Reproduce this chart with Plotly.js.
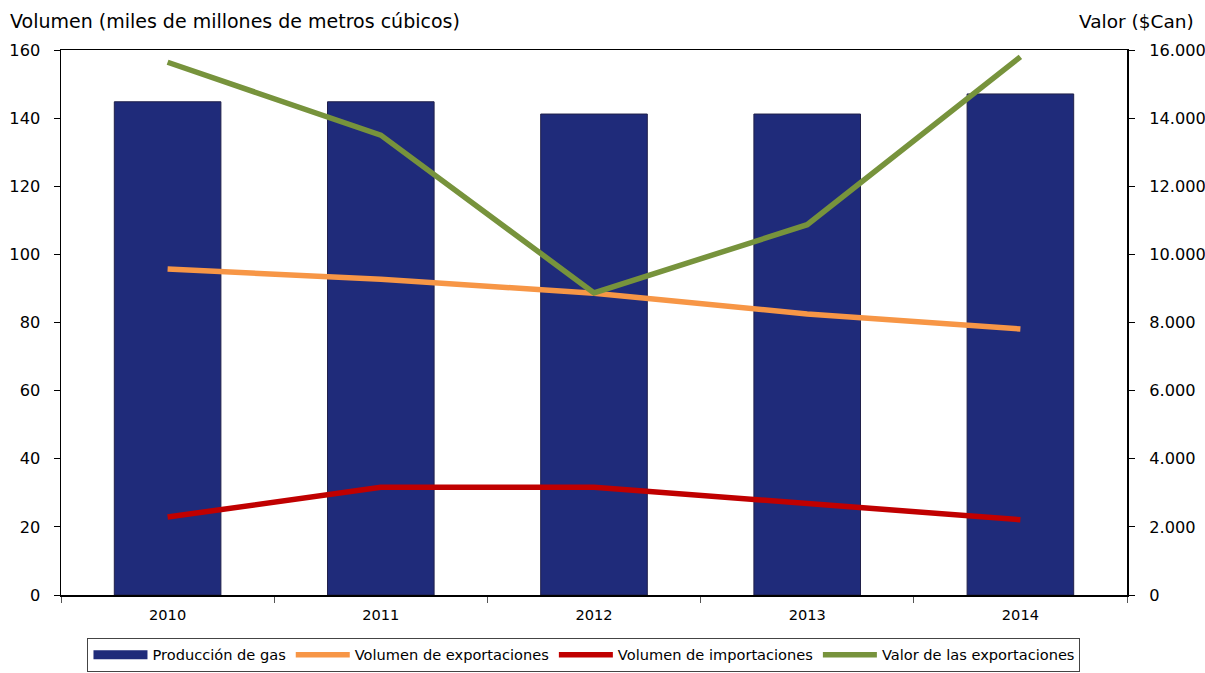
<!DOCTYPE html>
<html>
<head>
<meta charset="utf-8">
<script src="https://cdn.plot.ly/plotly-3.0.1.min.js"></script>
<style>
html,body{margin:0;padding:0;background:#fff;overflow:hidden;width:1205px;height:673px;}
#chart{width:1205px;height:692px;}
</style>
</head>
<body>
<div id="chart"></div>
<script>
const years = ['2010', '2011', '2012', '2013', '2014'];
const produccionGas = [144.8, 144.8, 141.2, 141.2, 147.1];
const volumenExportaciones = [95.7, 92.7, 88.6, 82.5, 78.1];
const volumenImportaciones = [22.9, 31.6, 31.6, 26.9, 22.1];
const valorExportaciones = [15640, 13500, 8870, 10870, 15800];

const leftTitle = 'Volumen (miles de millones de metros cúbicos)';
const rightTitle = 'Valor ($Can)';
const seriesNames = ['Producción de gas', 'Volumen de exportaciones', 'Volumen de importaciones', 'Valor de las exportaciones'];

const FONT = 'DejaVu Sans, Verdana, sans-serif';
const BAR_COLOR = '#1F2B7A';

const traces = [
  {
    type: 'bar', x: years, y: produccionGas, name: seriesNames[0],
    width: 0.5, showlegend: false,
    marker: {color: BAR_COLOR, line: {color: '#20204a', width: 1}},
    yaxis: 'y'
  },
  {
    // legend-only entry so the bar swatch is a wide rectangle, as in the original
    type: 'scatter', mode: 'lines', x: [null], y: [null], name: seriesNames[0],
    line: {color: BAR_COLOR, width: 9}, yaxis: 'y'
  },
  {
    type: 'scatter', mode: 'lines', x: years, y: volumenExportaciones, name: seriesNames[1],
    line: {color: '#F79646', width: 5.5}, yaxis: 'y'
  },
  {
    type: 'scatter', mode: 'lines', x: years, y: volumenImportaciones, name: seriesNames[2],
    line: {color: '#C00000', width: 5.5}, yaxis: 'y'
  },
  {
    type: 'scatter', mode: 'lines', x: years, y: valorExportaciones, name: seriesNames[3],
    line: {color: '#77933C', width: 5.5}, yaxis: 'y2'
  }
];

const layout = {
  width: 1205, height: 692,
  margin: {l: 61, r: 78, t: 50, b: 97},
  paper_bgcolor: '#fff', plot_bgcolor: '#fff',
  separators: ',.',
  font: {family: FONT, color: '#000', size: 16},
  showlegend: true,
  xaxis: {
    type: 'category',
    showline: true, linecolor: '#000', linewidth: 1.5, mirror: true,
    ticks: 'outside', tickson: 'boundaries', ticklen: 6, tickcolor: '#555', tickwidth: 1,
    tickfont: {family: FONT, size: 14.6, color: '#000'},
    ticklabelstandoff: 6,
    showgrid: false, zeroline: false, fixedrange: true
  },
  yaxis: {
    range: [0, 160], dtick: 20, tick0: 0,
    showline: true, linecolor: '#000', linewidth: 1.5,
    ticks: 'outside', ticklen: 6, tickcolor: '#000',
    tickfont: {family: FONT, size: 16.2, color: '#000'},
    ticklabelstandoff: 10,
    showgrid: false, zeroline: false, fixedrange: true
  },
  yaxis2: {
    range: [0, 16000], dtick: 2000, tick0: 0,
    tickformat: ',d',
    overlaying: 'y', side: 'right',
    showline: true, linecolor: '#000', linewidth: 2,
    ticks: 'outside', ticklen: 6, tickcolor: '#000',
    tickfont: {family: FONT, size: 16.2, color: '#000'},
    ticklabelstandoff: 11,
    showgrid: false, zeroline: false, fixedrange: true
  },
  legend: {
    orientation: 'h',
    x: 0.4906, xanchor: 'center', xref: 'paper',
    y: -0.0783, yanchor: 'top', yref: 'paper',
    bordercolor: '#444', borderwidth: 1, bgcolor: '#fff',
    font: {family: FONT, size: 14.6, color: '#000'},
    itemwidth: 54,
    tracegroupgap: 0,
    traceorder: 'normal'
  },
  annotations: [
    {
      text: leftTitle, xref: 'paper', yref: 'paper',
      x: (8 - 61) / 1066, y: (595 - 21) / 545, xanchor: 'left', yanchor: 'middle',
      showarrow: false, font: {family: FONT, size: 19, color: '#000'}
    },
    {
      text: rightTitle, xref: 'paper', yref: 'paper',
      x: (1196 - 61) / 1066, y: (595 - 21) / 545, xanchor: 'right', yanchor: 'middle',
      showarrow: false, font: {family: FONT, size: 18.5, color: '#000'}
    }
  ]
};

Plotly.newPlot('chart', traces, layout, {displayModeBar: false, staticPlot: true});
</script>
</body>
</html>
